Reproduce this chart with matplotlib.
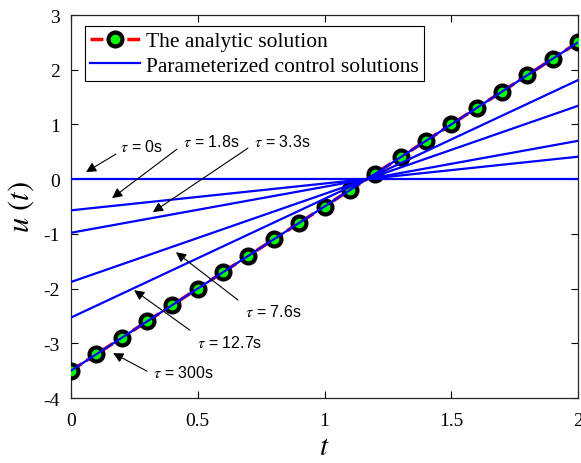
import numpy as np
import matplotlib
matplotlib.use("Agg")
import matplotlib.pyplot as plt

# ---- data ----
t_markers = [0.0, 0.1, 0.2, 0.3, 0.4, 0.5, 0.6, 0.7, 0.8, 0.9, 1.0,
             1.1, 1.2, 1.3, 1.4, 1.5, 1.6, 1.7, 1.8, 1.9, 2.0]
u_analytic = [-3.5, -3.2, -2.9, -2.6, -2.3, -2.0, -1.7, -1.4, -1.1, -0.8, -0.5,
              -0.2, 0.1, 0.4, 0.7, 1.0, 1.3, 1.6, 1.9, 2.2, 2.5]
t_ends = [0.0, 2.0]
tau_labels = ["0s", "1.8s", "3.3s", "7.6s", "12.7s", "300s"]
u_start = [0.0, -0.57, -0.98, -1.88, -2.53, -3.5]
u_end = [0.0, 0.41, 0.70, 1.34, 1.81, 2.5]
# annotation arrow tails / heads and text anchors (data coords)
tail_xy = [(0.177, 0.458), (0.418, 0.548), (0.698, 0.567),
           (0.659, -2.21), (0.469, -2.76), (0.30, -3.51)]
head_xy = [(0.059, 0.128), (0.162, -0.347), (0.323, -0.603),
           (0.414, -1.335), (0.249, -2.03), (0.166, -3.18)]
text_xy = [(0.193, 0.603), (0.442, 0.695), (0.722, 0.695),
           (0.686, -2.413), (0.497, -2.98), (0.323, -3.53)]

plt.rcParams['mathtext.fontset'] = 'stix'
plt.rcParams['axes.unicode_minus'] = False
serif = 'Liberation Serif'

fig = plt.figure(figsize=(5.81, 4.64), dpi=100)
ax = fig.add_axes([71/581, 1 - 399/464, (578-71)/581, (399-16)/464])

ax.plot(t_markers, u_analytic, color='red', ls='--', lw=2.5, marker='o',
        ms=10, mfc=(0, 1, 0), mec='black', mew=3.0,
        label='The analytic solution', zorder=3)
for i in range(len(u_start)):
    ax.plot(t_ends, [u_start[i], u_end[i]], color=(0, 0, 1), lw=1.6,
            zorder=4, label='Parameterized control solutions' if i == 0 else None)

for i, lab in enumerate(tau_labels):
    ax.annotate('', xy=head_xy[i], xytext=tail_xy[i],
                arrowprops=dict(arrowstyle='-|>', color='black', lw=0.8,
                                mutation_scale=15, shrinkA=0, shrinkB=0),
                zorder=5)
    ax.text(text_xy[i][0], text_xy[i][1], r'$\tau$' + ' = ' + lab, fontsize=11.5,
            family='Liberation Sans', ha='left', va='center', zorder=6)

ax.set_xlim(0, 2)
ax.set_ylim(-4, 3)
ax.set_xticks([0, 0.5, 1, 1.5, 2])
ax.set_xticklabels(['0', '0.5', '1', '1.5', '2'])
ax.set_yticks([-4, -3, -2, -1, 0, 1, 2, 3])
ax.tick_params(direction='in', top=True, right=True, length=5, width=0.8,
               labelsize=14)
ax.tick_params(axis='x', pad=10)
ax.tick_params(axis='y', pad=8)
for lbl in ax.get_xticklabels() + ax.get_yticklabels():
    lbl.set_family(serif)
for s in ax.spines.values():
    s.set_linewidth(0.9)
    s.set_color('#262626')

ax.set_xlabel(r'$t$', fontsize=21, labelpad=2)
ax.set_ylabel(r'$u\ (t)$', fontsize=22, labelpad=5)

leg = ax.legend(loc='upper left', bbox_to_anchor=(0.027, 0.972), fancybox=False,
                edgecolor='black', framealpha=1, prop={'family': serif, 'size': 15.5},
                handlelength=2.3, borderpad=0.25, labelspacing=0.22,
                handletextpad=0.3, borderaxespad=0)
leg.get_frame().set_linewidth(0.8)

fig.savefig('out.png', dpi=100)
